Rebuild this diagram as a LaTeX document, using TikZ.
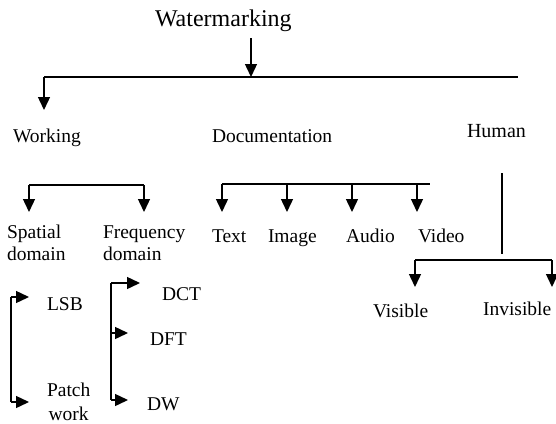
\documentclass[tikz,border=0pt]{standalone}
\usepackage{fontspec}
\setmainfont{Liberation Serif}
\usetikzlibrary{arrows.meta}
\begin{document}
\begin{tikzpicture}[x=1pt,y=-1pt,
  lbl/.style={inner sep=0pt,outer sep=0pt,anchor=base west,font=\fontsize{19.5}{22}\selectfont},
  big/.style={inner sep=0pt,outer sep=0pt,anchor=base west,font=\fontsize{24}{28}\selectfont},
  ln/.style={line width=1.4pt},
  arr/.style={line width=1.4pt,-{Triangle[width=12pt,length=13pt]}}]
\useasboundingbox (0,0) rectangle (556,423);
% labels
\node[big] (wm) at (155,26) {Watermarking};
\node[lbl] (working) at (13,142) {Working};
\node[lbl] (doc) at (212,142) {Documentation};
\node[lbl,font=\fontsize{20}{22}\selectfont] (human) at (467,137) {Human};
\node[lbl,align=left] (spatial) at (7,260) {Spatial\\domain};
\node[lbl,align=left] (freq) at (103,260) {Frequency\\domain};
\node[lbl] (text) at (212,242) {Text};
\node[lbl] (image) at (268,242) {Image};
\node[lbl] (audio) at (346,242) {Audio};
\node[lbl] (video) at (418,242) {Video};
\node[lbl] (visible) at (373,317) {Visible};
\node[lbl] (invisible) at (483,315) {Invisible};
\node[lbl] (lsb) at (47,310) {LSB};
\node[lbl,align=center,font=\fontsize{19.5}{24}\selectfont] (patch) at (47,420) {Patch\\work};
\node[lbl] (dct) at (162,300) {DCT};
\node[lbl] (dft) at (150,345) {DFT};
\node[lbl] (dw) at (147,410) {DW};
% coordinates
\coordinate (wmA) at (251,38);
\coordinate (wmB) at (251,77);
\coordinate (h1L) at (44,77);
\coordinate (h1R) at (518,77);
\coordinate (workT) at (44,110);
% working branch
\coordinate (w2L) at (29,185);
\coordinate (w2R) at (144,185);
\coordinate (spT) at (29,212);
\coordinate (frT) at (144,212);
% documentation branch
\coordinate (d2L) at (222,184);
\coordinate (d2R) at (430,184);
\coordinate (d2b) at (287,184);
\coordinate (d2c) at (352,184);
\coordinate (d2d) at (417,184);
\coordinate (txT) at (222,212);
\coordinate (imT) at (287,212);
\coordinate (auT) at (352,212);
\coordinate (viT) at (417,212);
% human branch
\coordinate (huA) at (502,173);
\coordinate (huB) at (502,254);
\coordinate (h2L) at (415,260);
\coordinate (h2R) at (552,260);
\coordinate (visT) at (415,287);
\coordinate (invT) at (552,287);
% spatial bracket
\coordinate (s3T) at (11,297);
\coordinate (s3B) at (11,402);
\coordinate (lsbA) at (29,297);
\coordinate (patA) at (29,402);
% frequency bracket
\coordinate (f3T) at (111,283);
\coordinate (f3M) at (111,333);
\coordinate (f3B) at (111,400);
\coordinate (dctA) at (140,283);
\coordinate (dftA) at (128,333);
\coordinate (dwA) at (128,400);
% connectors
\draw[arr] (wmA) -- (wmB);
\draw[ln] (h1L) -- (h1R);
\draw[arr] (h1L) -- (workT);
\draw[ln] (w2L) -- (w2R);
\draw[arr] (w2L) -- (spT);
\draw[arr] (w2R) -- (frT);
\draw[ln] (d2L) -- (d2R);
\draw[arr] (d2L) -- (txT);
\draw[arr] (d2b) -- (imT);
\draw[arr] (d2c) -- (auT);
\draw[arr] (d2d) -- (viT);
\draw[ln] (huA) -- (huB);
\draw[ln] (h2L) -- (h2R);
\draw[arr] (h2L) -- (visT);
\draw[arr] (h2R) -- (invT);
\draw[ln] (s3T) -- (s3B);
\draw[arr] (s3T) -- (lsbA);
\draw[arr] (s3B) -- (patA);
\draw[ln] (f3T) -- (f3B);
\draw[arr] (f3T) -- (dctA);
\draw[arr] (f3M) -- (dftA);
\draw[arr] (f3B) -- (dwA);
\end{tikzpicture}
\end{document}
